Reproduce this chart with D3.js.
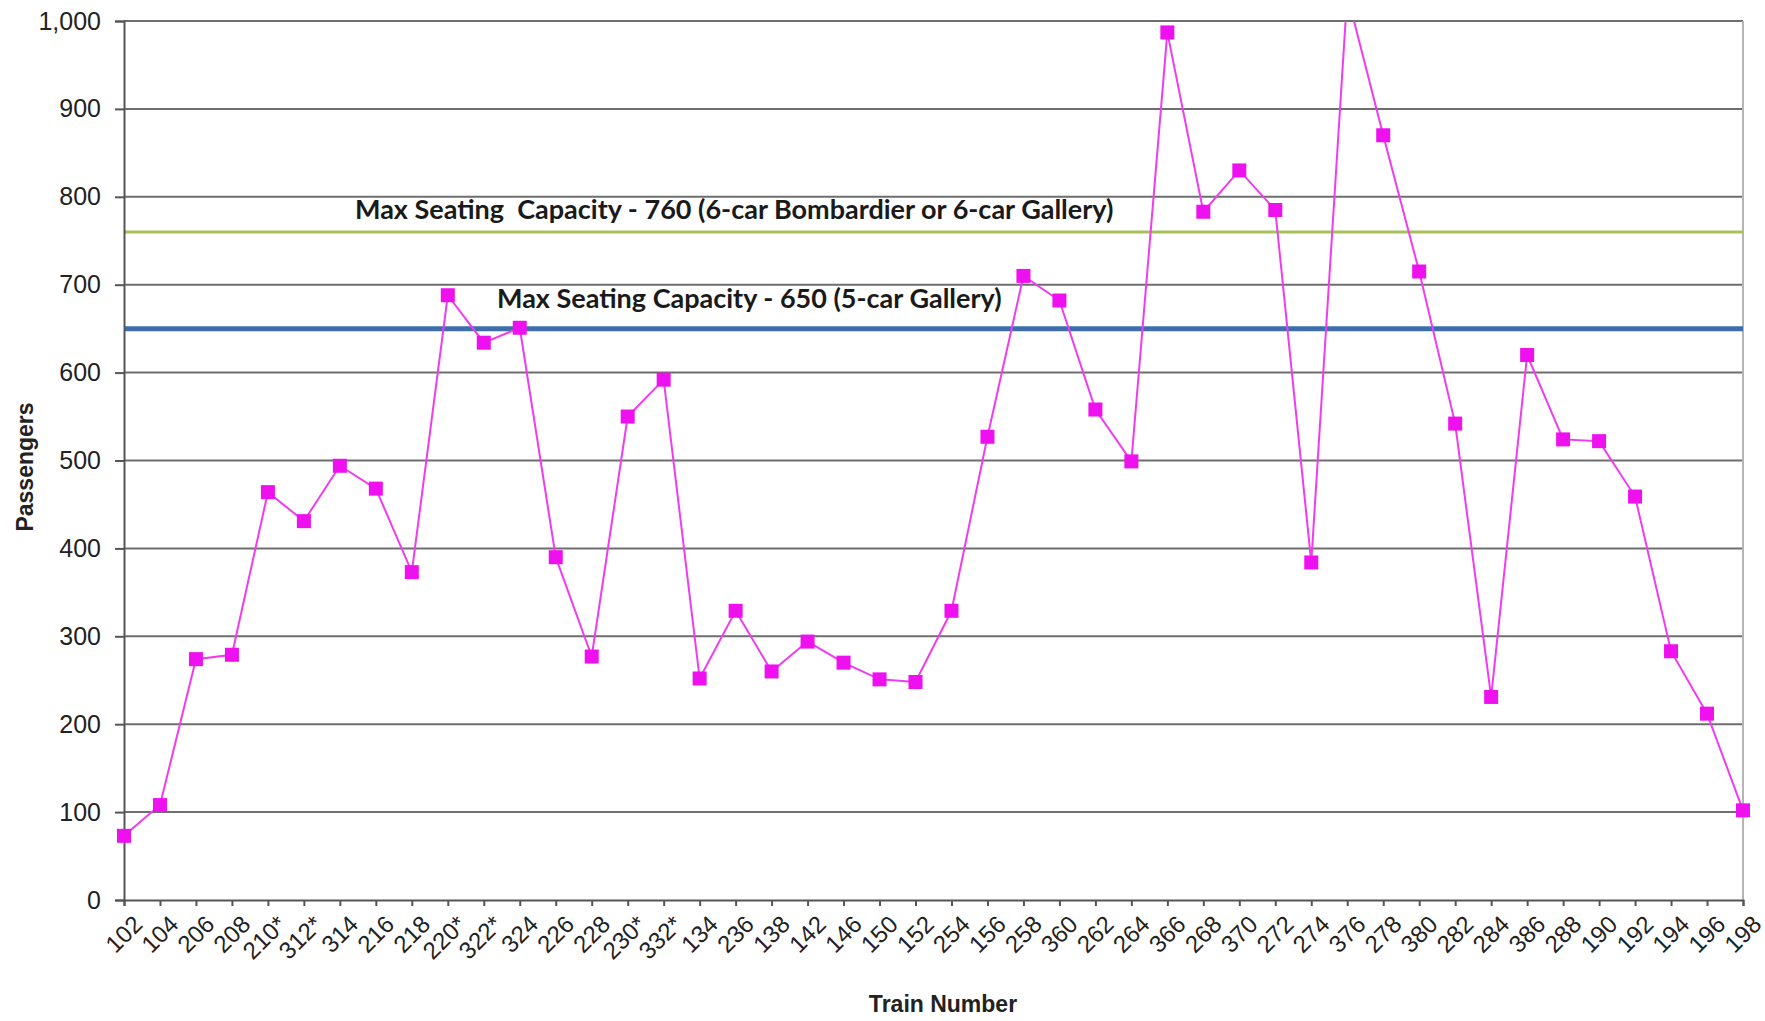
<!DOCTYPE html>
<html>
<head>
<meta charset="utf-8">
<script src="https://cdnjs.cloudflare.com/ajax/libs/d3/7.8.5/d3.min.js"></script>
<style>
  body { margin: 0; background: #fff; }
  .tick text { font-family: "Liberation Sans", Arial, sans-serif; fill: #222; }
  .axisTitle { font-family: "Liberation Sans", Arial, sans-serif; font-weight: bold; fill: #222; }
  .capLabel { font-family: Lato, "Open Sans", sans-serif; font-weight: bold; fill: #1a1a1a; white-space: pre; }
</style>
</head>
<body>
<div id="chart"></div>
<script>
// Train numbers along the x axis
var trains = ["102", "104", "206", "208", "210*", "312*", "314", "216", "218", "220*",
  "322*", "324", "226", "228", "230*", "332*", "134", "236", "138", "142",
  "146", "150", "152", "254", "156", "258", "360", "262", "264", "366",
  "268", "370", "272", "274", "376", "278", "380", "282", "284", "386",
  "288", "190", "192", "194", "196", "198"];

// Passengers per train
var passengers = [73, 108, 274, 279, 464, 431, 494, 468, 373, 688,
  634, 651, 390, 277, 550, 592, 252, 329, 260, 294,
  270, 251, 248, 329, 527, 710, 682, 558, 499, 987,
  783, 830, 785, 384, 1030, 870, 715, 542, 231, 620,
  524, 522, 459, 283, 212, 102];

var yTicks = [0, 100, 200, 300, 400, 500, 600, 700, 800, 900, 1000];

// Seating capacity reference lines
var capValues = [760, 650];
var capLabels = ["Max Seating  Capacity - 760 (6-car Bombardier or 6-car Gallery)",
  "Max Seating Capacity - 650 (5-car Gallery)"];
var capColors = ["#a6c15a", "#3d6eaa"];

var svgWidth = 1765;
var svgHeight = 1021;

var margin = { top: 21, right: 22, bottom: 121, left: 124 };
var width = svgWidth - margin.left - margin.right;
var height = svgHeight - margin.top - margin.bottom;

var svg = d3.select("#chart")
  .append("svg")
  .attr("width", svgWidth)
  .attr("height", svgHeight);

var chartGroup = svg.append("g")
  .attr("transform", `translate(${margin.left}, ${margin.top})`);

var xScale = d3.scalePoint()
  .domain(trains)
  .range([0, width]);

var yScale = d3.scaleLinear()
  .domain([0, 1000])
  .range([height, 0]);

// Gridlines
chartGroup.append("g")
  .selectAll("line")
  .data(yTicks.slice(1))
  .enter()
  .append("line")
  .attr("x1", 0)
  .attr("x2", width)
  .attr("y1", d => yScale(d))
  .attr("y2", d => yScale(d))
  .attr("stroke", "#6e6e6e")
  .attr("stroke-width", 2);

// Right border of plot area
chartGroup.append("line")
  .attr("x1", width)
  .attr("x2", width)
  .attr("y1", 0)
  .attr("y2", height)
  .attr("stroke", "#b5b5b5")
  .attr("stroke-width", 2);

// Capacity lines
chartGroup.selectAll(".capLine")
  .data(capValues)
  .enter()
  .append("line")
  .attr("class", "capLine")
  .attr("x1", 0)
  .attr("x2", width)
  .attr("y1", d => yScale(d))
  .attr("y2", d => yScale(d))
  .attr("stroke", (d, i) => capColors[i])
  .attr("stroke-width", (d, i) => i == 0 ? 3 : 5);

// Capacity labels
chartGroup.append("text")
  .attr("class", "capLabel")
  .attr("x", 355 - margin.left)
  .attr("y", yScale(760) - 13)
  .attr("font-size", "27px")
  .text(capLabels[0]);

chartGroup.append("text")
  .attr("class", "capLabel")
  .attr("x", 497 - margin.left)
  .attr("y", yScale(650) - 21)
  .attr("font-size", "27px")
  .text(capLabels[1]);

// Axes
var leftAxis = d3.axisLeft(yScale)
  .tickValues(yTicks)
  .tickFormat(d3.format(","))
  .tickSize(9)
  .tickPadding(14);

var bottomAxis = d3.axisBottom(xScale)
  .tickSize(6)
  .tickFormat("");

var yAxis = chartGroup.append("g").call(leftAxis);
yAxis.selectAll("text").attr("font-size", "25px");

var xAxis = chartGroup.append("g")
  .attr("transform", `translate(0, ${height})`)
  .call(bottomAxis);

svg.selectAll(".domain, .tick line")
  .attr("stroke", "#555")
  .attr("stroke-width", 2);

// Rotated train labels
chartGroup.append("g")
  .selectAll("text")
  .data(trains)
  .enter()
  .append("text")
  .attr("class", "tick")
  .attr("transform", d => `translate(${xScale(d) + 8}, ${height + 14}) rotate(-45)`)
  .attr("text-anchor", "end")
  .attr("dy", "0.7em")
  .style("font-family", "'Liberation Sans', Arial, sans-serif")
  .style("font-size", "24px")
  .style("fill", "#222")
  .text(d => d);

// Clip for the data line
svg.append("defs").append("clipPath")
  .attr("id", "plotClip")
  .append("rect")
  .attr("x", -10)
  .attr("y", 0)
  .attr("width", width + 20)
  .attr("height", height + 10);

var plot = chartGroup.append("g")
  .attr("clip-path", "url(#plotClip)");

var line = d3.line()
  .x((d, i) => xScale(trains[i]))
  .y(d => yScale(d));

plot.append("path")
  .datum(passengers)
  .attr("d", line)
  .attr("fill", "none")
  .attr("stroke", "#f03cf0")
  .attr("stroke-width", 2);

plot.selectAll("rect")
  .data(passengers)
  .enter()
  .append("rect")
  .attr("x", (d, i) => xScale(trains[i]) - 7)
  .attr("y", d => yScale(d) - 7)
  .attr("width", 14)
  .attr("height", 14)
  .attr("fill", "#ee10ee");

// Axis titles
svg.append("text")
  .attr("class", "axisTitle")
  .attr("transform", "translate(33, 467) rotate(-90)")
  .attr("text-anchor", "middle")
  .attr("font-size", "23px")
  .text("Passengers");

svg.append("text")
  .attr("class", "axisTitle")
  .attr("x", 943)
  .attr("y", 1012)
  .attr("text-anchor", "middle")
  .attr("font-size", "23px")
  .text("Train Number");
</script>
</body>
</html>
